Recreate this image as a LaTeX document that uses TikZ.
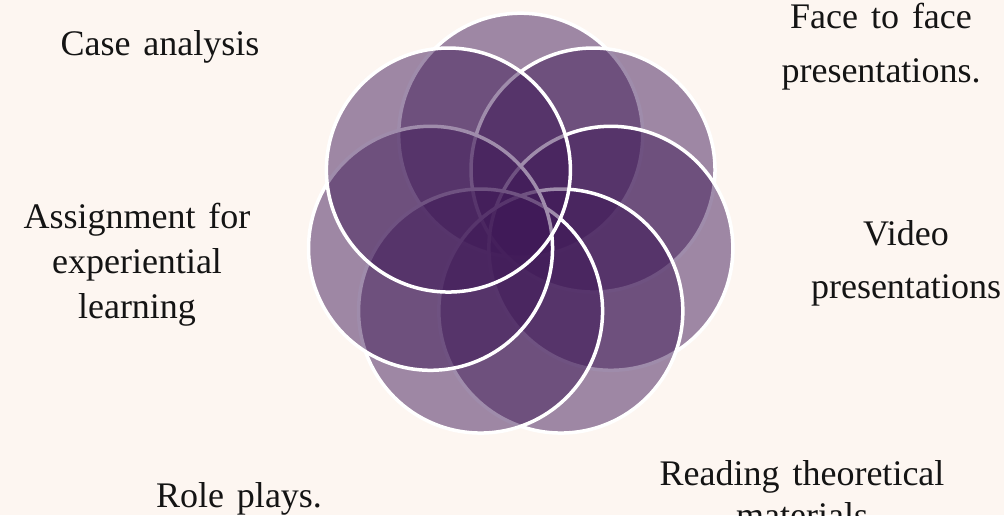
\documentclass[tikz,border=0pt]{standalone}
\usepackage{fontspec}
\setmainfont{Liberation Serif}
\definecolor{bgcream}{RGB}{253,246,241}
\definecolor{petal}{RGB}{64,26,88}
\definecolor{ink}{RGB}{20,20,20}
\newcommand{\lblfont}[1]{\fontsize{36}{#1}\selectfont\spaceskip=0.36em plus 0.1em\relax}
\begin{document}
\begin{tikzpicture}[x=1pt,y=-1pt,
  petalc/.style={circle, draw=white, line width=3.5pt, fill=petal, fill opacity=0.5, draw opacity=1, minimum size=244pt, inner sep=0pt},
  lbl/.style={text=ink, font=\lblfont{45}, align=center, inner sep=0pt, anchor=base}]
\useasboundingbox (0,0) rectangle (1004,515);
\clip (0,0) rectangle (1004,515);
\fill[bgcream] (0,0) rectangle (1004,515);
\foreach \k in {0,...,6} {
  \node[petalc] (c\k) at ({520.7+92.5*cos(90-\k*360/7)}, {227.7-92.5*sin(90-\k*360/7)}) {};
}
\node[lbl] (case) at (160,55) {Case analysis};
\node[lbl] (assign) at (137,318) {Assignment for\\experiential\\learning};
\node[lbl] (role) at (239,507) {Role plays.};
\node[lbl, font=\lblfont{54}] (face) at (881,82) {Face to face\\presentations.};
\node[lbl, font=\lblfont{53}] (video) at (906,298) {Video\\presentations};
\node[lbl, font=\lblfont{42}] (read) at (802,527) {Reading theoretical\\materials};
\end{tikzpicture}
\end{document}
